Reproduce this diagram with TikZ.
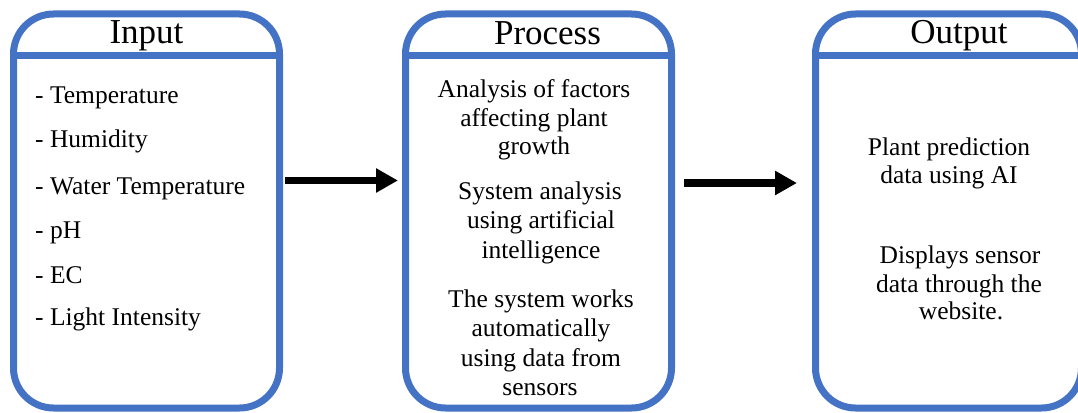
\documentclass[tikz,border=0pt]{standalone}
\usepackage{fontspec}
\setmainfont{Liberation Serif}
\usetikzlibrary{arrows.meta}
\definecolor{frameblue}{HTML}{4472C4}
\begin{document}
\begin{tikzpicture}[x=1pt,y=-1pt,
  panel/.style={draw=frameblue, line width=7pt, rounded corners=40pt,
    minimum width=266pt, minimum height=394pt, inner sep=0pt},
  divider/.style={draw=frameblue, line width=7pt},
  head/.style={font=\fontsize{35}{40}\selectfont, anchor=base, inner sep=0pt},
  body/.style={font=\fontsize{25.5}{29}\selectfont, anchor=base, inner sep=0pt},
  item/.style={body, anchor=base west},
  flow/.style={line width=7.5pt, -{Triangle[length=22pt,width=23pt]}}]
\useasboundingbox (0,0) rectangle (1078,412);

% three panels
\node[panel] (inbox)   at (146.5,211) {};
\node[panel] (procbox) at (538.5,211) {};
\node[panel] (outbox)  at (948.5,211) {};

% header dividers
\foreach \b in {inbox,procbox,outbox}
  \draw[divider] (\b.west |- 0,56) -- (\b.east |- 0,56);

% headers
\node[head] (hin)   at (146.5,44) {Input};
\node[head] (hproc) at (547.5,45) {Process};
\node[head] (hout)  at (959,44) {Output};

% input list
\node[item] (i1) at (35,103) {- Temperature};
\node[item] (i2) at (35,147) {- Humidity};
\node[item] (i3) at (35,194) {- Water Temperature};
\node[item] (i4) at (35,238) {- pH};
\node[item] (i5) at (35,283) {- EC};
\node[item] (i6) at (35,325) {- Light Intensity};

% process text
\node[body] (p1) at (534,97)  {Analysis of factors};
\node[body] (p2) at (534,126) {affecting plant};
\node[body] (p3) at (534,154) {growth};
\node[body] (p4) at (540,199) {System analysis};
\node[body] (p5) at (541,228) {using artificial};
\node[body] (p6) at (541,258) {intelligence};
\node[body] (p7) at (541,307) {The system works};
\node[body] (p8) at (541,336) {automatically};
\node[body] (p9) at (541,366) {using data from};
\node[body] (p10) at (540,395) {sensors};

% output text
\node[body] (o1) at (949,155) {Plant prediction};
\node[body] (o2) at (949,183) {data using AI};
\node[body] (o3) at (960,263) {Displays sensor};
\node[body] (o4) at (959,292) {data through the};
\node[body] (o5) at (961,319) {website.};

% flow arrows between panels
\coordinate (a1s) at (285,180.5);
\coordinate (a1e) at (398,180.5);
\coordinate (a2s) at (684,183);
\coordinate (a2e) at (797,183);
\draw[flow] (a1s) -- (a1e);
\draw[flow] (a2s) -- (a2e);
\end{tikzpicture}
\end{document}
